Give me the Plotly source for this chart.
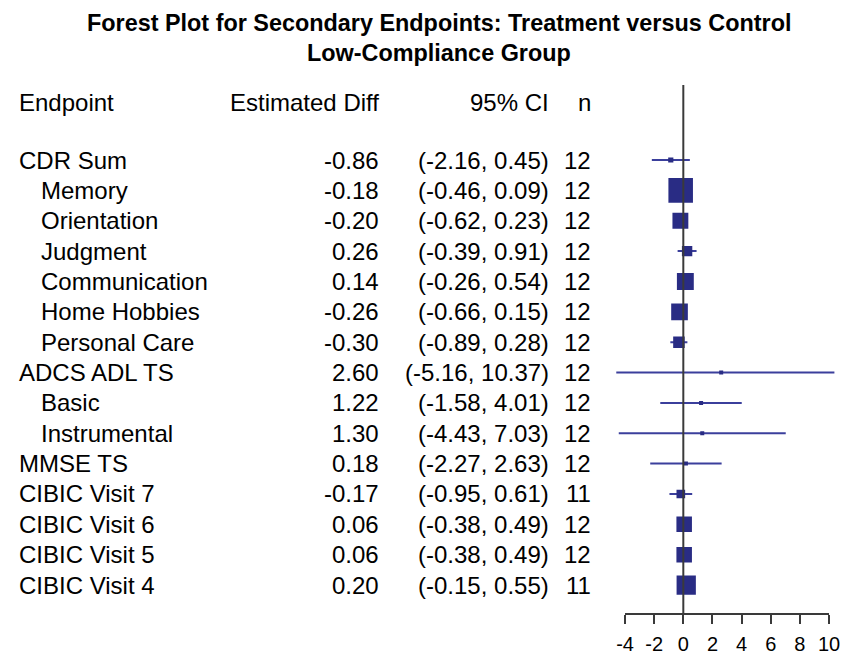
import plotly.graph_objects as go

# ---------------- data ----------------
endpoints = ["CDR Sum", "Memory", "Orientation", "Judgment", "Communication",
             "Home Hobbies", "Personal Care", "ADCS ADL TS", "Basic", "Instrumental",
             "MMSE TS", "CIBIC Visit 7", "CIBIC Visit 6", "CIBIC Visit 5", "CIBIC Visit 4"]
indent = [0, 1, 1, 1, 1, 1, 1, 0, 1, 1, 0, 0, 0, 0, 0]
estimate = [-0.86, -0.18, -0.20, 0.26, 0.14, -0.26, -0.30, 2.60, 1.22, 1.30,
            0.18, -0.17, 0.06, 0.06, 0.20]
ci_low = [-2.16, -0.46, -0.62, -0.39, -0.26, -0.66, -0.89, -5.16, -1.58, -4.43,
          -2.27, -0.95, -0.38, -0.38, -0.15]
ci_high = [0.45, 0.09, 0.23, 0.91, 0.54, 0.15, 0.28, 10.37, 4.01, 7.03,
           2.63, 0.61, 0.49, 0.49, 0.55]
n_obs = [12, 12, 12, 12, 12, 12, 12, 12, 12, 12, 12, 11, 12, 12, 11]
tick_vals = [-4, -2, 0, 2, 4, 6, 8, 10]
tick_text = ["-4", "-2", "0", "2", "4", "6", "8", "10"]

title_lines = ["Forest Plot for Secondary Endpoints: Treatment versus Control",
               "Low-Compliance Group"]
headers = ["Endpoint", "Estimated Diff", "95% CI", "n"]

# ---------------- layout constants ----------------
W, H = 850, 665
OFF = 8  # page offset of the figure (body margin)
FONT = "Liberation Sans, Arial, sans-serif"
NAVY = "#292c84"
LINE = "#3b3f9c"
rows = list(range(len(endpoints)))


def px(X):
    return (X - OFF) / W


def py(Y):
    return 1 - (Y - OFF) / H


# page-pixel mapping of rows
ROW0, ROWSTEP = 160, 30.36
AXIS_Y = 614
r_top = (OFF - ROW0) / ROWSTEP
r_bot = (AXIS_Y - ROW0) / ROWSTEP

# marker side length inversely proportional to CI width (inverse-variance weight)
sizes = [max(13.5 / (h - l), 4) for l, h in zip(ci_low, ci_high)]

fig = go.Figure()

# whiskers
wx, wy = [], []
for r, l, h in zip(rows, ci_low, ci_high):
    wx += [l, h, None]
    wy += [r, r, None]
fig.add_trace(go.Scatter(x=wx, y=wy, mode="lines",
                         line=dict(color=LINE, width=2), hoverinfo="skip",
                         showlegend=False))
# point estimates
fig.add_trace(go.Scatter(x=estimate, y=rows, mode="markers",
                         marker=dict(symbol="square", size=sizes, color=NAVY,
                                     opacity=1, line=dict(width=0)),
                         opacity=1, showlegend=False))

# zero reference line (drawn above markers)
fig.add_shape(type="line", xref="x", yref="y", x0=0, x1=0,
              y0=(85 - ROW0) / ROWSTEP, y1=r_bot,
              line=dict(color="#3a3a3a", width=2), layer="above")
# axis line only across tick span
fig.add_shape(type="line", xref="x", yref="y domain", x0=tick_vals[0], x1=tick_vals[-1],
              y0=0, y1=0, line=dict(color="#3a3a3a", width=2))

ann = []
tt = dict(size=23.4, family=FONT, color="black")
for line, Y in zip(title_lines, [22, 52]):
    ann.append(dict(text="<b>%s</b>" % line, xref="paper", yref="paper",
                    x=px(441), y=py(Y + 1), showarrow=False, xanchor="center",
                    yanchor="middle", font=tt, borderpad=0, borderwidth=0))

tf = dict(size=24, family=FONT, color="black")
hy = (102 - ROW0) / ROWSTEP
COLX = [19, 381, 552, 594]
ANCH = ["left", "right", "right", "right"]
for txt, X, a in zip(headers, COLX, ANCH):
    ann.append(dict(text=txt, xref="paper", yref="y", x=px(X), y=hy,
                    xanchor=a, yanchor="middle", showarrow=False, font=tf,
                    borderpad=0, borderwidth=0))

for r, name, ind, e, l, h, n in zip(rows, endpoints, indent, estimate, ci_low, ci_high, n_obs):
    cells = [name, "%.2f" % e, "(%.2f, %.2f)" % (l, h), str(n)]
    xs = [41 if ind else 19] + COLX[1:]
    for txt, X, a in zip(cells, xs, ANCH):
        ann.append(dict(text=txt, xref="paper", yref="y", x=px(X), y=r,
                        xanchor=a, yanchor="middle", showarrow=False, font=tf,
                        borderpad=0, borderwidth=0))

PX0 = 686.5  # page pixel of x = 0
PPU = 14.64  # pixels per unit
xmin, xmax = -4.6, 10.5
fig.update_layout(
    width=W, height=H,
    margin=dict(l=0, r=0, t=0, b=0),
    paper_bgcolor="white", plot_bgcolor="white",
    annotations=ann,
    xaxis=dict(domain=[px(PX0 + PPU * xmin), px(PX0 + PPU * xmax)],
               range=[xmin, xmax], tickvals=tick_vals, ticktext=tick_text,
               ticks="outside", ticklen=9, tickwidth=2, tickcolor="#3a3a3a",
               ticklabelstandoff=3,
               showline=False, showgrid=False, zeroline=False,
               tickfont=dict(size=20, family=FONT, color="black")),
    yaxis=dict(domain=[py(AXIS_Y), 1], range=[r_bot, r_top], visible=False,
               showgrid=False, zeroline=False),
)

fig.write_html("out.html")
